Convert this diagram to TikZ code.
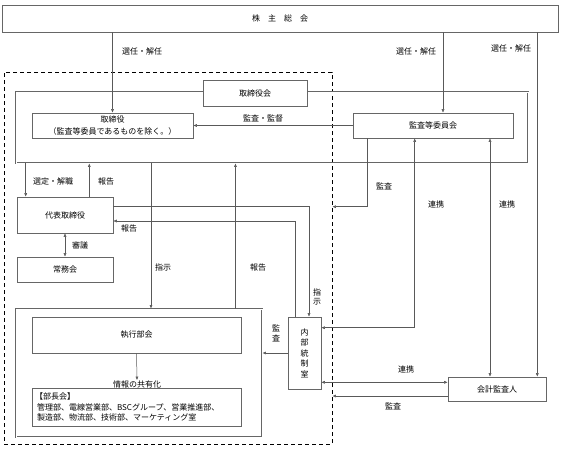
\documentclass[tikz,border=0pt]{standalone}
\usepackage{fontspec}
\setmainfont{Noto Sans CJK JP}
\usetikzlibrary{arrows.meta}

\begin{document}
\begin{tikzpicture}[x=1pt, y=-1pt,
	font=\fontsize{8}{10.5}\selectfont,
	box/.style = {draw=black!60, line width=0.6pt, fill=white, inner sep=1pt},
	frame/.style = {draw=black!60, double=white, line width=0.9pt, double distance=0.6pt, inner sep=0pt},
	lbl/.style = {inner sep=0pt},
	arr/.style = {draw=black!65, line width=0.5pt, -{Latex[length=3.5pt,width=3pt]}},
	arrs/.style = {draw=black!65, line width=0.5pt, {Latex[length=3.5pt,width=3pt]}-{Latex[length=3.5pt,width=3pt]}}]
	\useasboundingbox (0,0) rectangle (567,450);
	% outer groups
	\node[draw, dashed, dash pattern=on 4pt off 3pt, line width=0.8pt, minimum width=328, minimum height=372] (group) at (168,258) {};
	\node[frame, minimum width=512, minimum height=71] (torikai) at (272,127.5) {};
	\node[frame, minimum width=246, minimum height=128] (shikkoframe) at (139,373) {};
	% boxes
	\node[box, minimum width=556, minimum height=27] (kabu) at (280,18.5) {株\hspace{1em}主\hspace{1em}総\hspace{1em}会};
	\node[box, minimum width=104, minimum height=26] (torikailbl) at (255,93) {取締役会};
	\node[box, minimum width=161, minimum height=25, align=center] (tori) at (112.5,125.5) {取締役\\[2pt]（監査等委員であるものを除く。）};
	\node[box, minimum width=160, minimum height=25] (kansa) at (433,125.5) {監査等委員会};
	\node[box, minimum width=96, minimum height=36] (daihyo) at (65,215) {代表取締役};
	\node[box, minimum width=96, minimum height=25] (jomu) at (65,269.5) {常務会};
	\node[box, minimum width=33, minimum height=72, align=center] (naibu) at (304.5,353) {内\\部\\統\\制\\室};
	\node[box, minimum width=98, minimum height=24] (kaikei) at (497,389) {会計監査人};
	\node[box, minimum width=209, minimum height=36] (bukai) at (136.5,335) {執行部会};
	\node[lbl] (share) at (137,384) {情報の共有化};
	\node[box, text width=203, inner sep=3pt, minimum height=38, align=left] (bucho) at (136.5,407) {【部長会】\\\hspace*{2pt}管理部、電線営業部、BSCグループ、営業推進部、\\\hspace*{2pt}製造部、物流部、技術部、マーケティング室};
	% connectors
	\draw[arr] (tori.north |- kabu.south) -- (tori.north);
	\draw[arr] ([xshift=10pt]kansa.north |- kabu.south) -- ([xshift=10pt]kansa.north);
	\draw[arr] ([xshift=-9pt]kaikei.north east |- kabu.south) -- ([xshift=-9pt]kaikei.north east);
	\draw[arr] (kansa.west) -- (tori.east);
	\draw[arr] ([xshift=9pt]daihyo.north west |- torikai.south) -- ([xshift=9pt]daihyo.north west);
	\draw[arr] ([xshift=-24pt]daihyo.north east) -- ([xshift=-24pt]daihyo.north east |- torikai.south);
	\draw[arrs] (daihyo.south) -- (jomu.north);
	\draw[arr] ([xshift=12pt]shikkoframe.north |- torikai.south) -- ([xshift=12pt]shikkoframe.north);
	\draw[arr] ([xshift=-27pt]shikkoframe.north east) -- ([xshift=-27pt]shikkoframe.north east |- torikai.south);
	\draw[arr] ([xshift=15pt]kansa.south west) |- ([yshift=-10pt]daihyo.north -| group.east);
	\draw[arr] ([yshift=-10pt]daihyo.north east) -| ([xshift=4.5pt]naibu.north);
	\draw[arr] ([xshift=-9.5pt]naibu.north) |- ([yshift=-6pt]daihyo.east);
	\draw[arrs] ([xshift=62pt]kansa.south west) |- ([yshift=-11pt]naibu.north east);
	\draw[arrs] ([xshift=-7pt]kaikei.north |- kansa.south) -- ([xshift=-7pt]kaikei.north);
	\draw[arrs] ([yshift=7pt]naibu.south east) -- ([yshift=7pt]naibu.south east -| kaikei.west);
	\draw[arr] ([yshift=-7pt]kaikei.west) -- ([yshift=-7pt]kaikei.west -| group.east);
	\draw[arr] (naibu.west) -- (naibu.west -| shikkoframe.east);
	\draw[arr] (bukai.south) -- (share.north);
	% labels
	\node[lbl] (l1) at (142,51) {選任・解任};
	\node[lbl] (l2) at (416,51) {選任・解任};
	\node[lbl] (l3) at (511,48) {選任・解任};
	\node[lbl] (l4) at (263,118) {監査・監督};
	\node[lbl] (l5) at (53,181) {選定・解職};
	\node[lbl] (l6) at (106,181) {報告};
	\node[lbl] (l7) at (129,228) {報告};
	\node[lbl] (l8) at (80,245) {審議};
	\node[lbl] (l9) at (163,267) {指示};
	\node[lbl] (l10) at (258,267) {報告};
	\node[lbl] (l11) at (384,186) {監査};
	\node[lbl] (l12) at (436,204) {連携};
	\node[lbl] (l13) at (507,204) {連携};
	\node[lbl, align=center, font=\fontsize{8}{9}\selectfont] (l14) at (317,297) {指\\示};
	\node[lbl, align=center, font=\fontsize{8}{10}\selectfont] (l15) at (276,333) {監\\査};
	\node[lbl] (l16) at (406,369) {連携};
	\node[lbl] (l17) at (393,406) {監査};
\end{tikzpicture}
\end{document}
